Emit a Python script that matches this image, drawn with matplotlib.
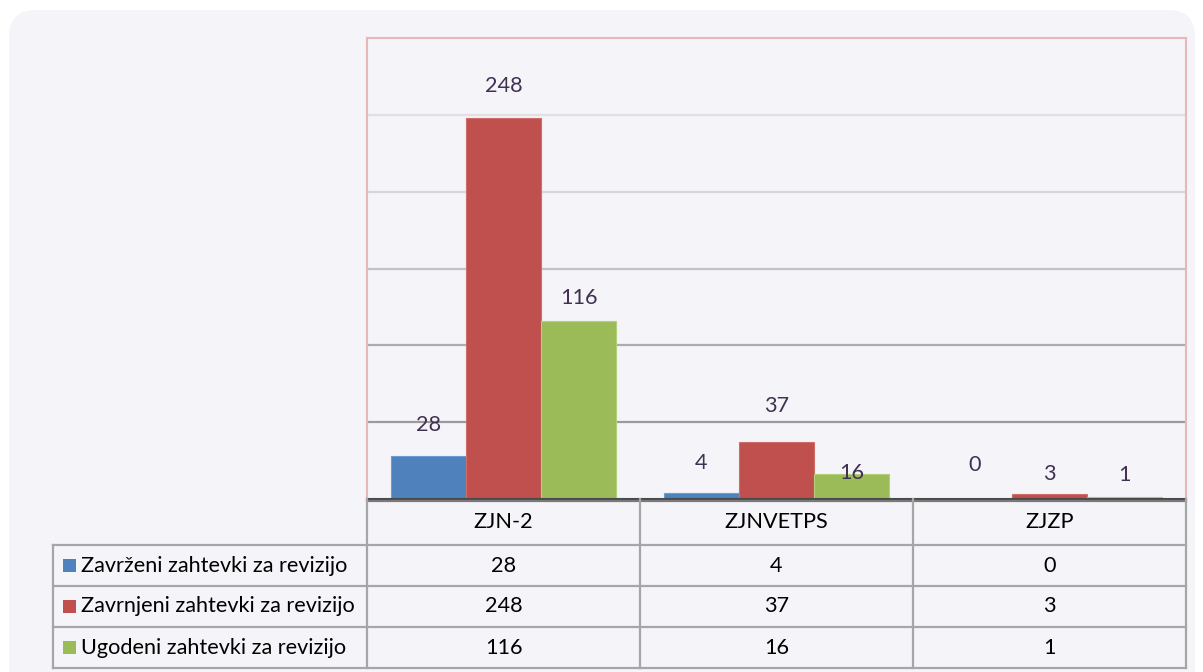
import matplotlib
matplotlib.use('Agg')
import matplotlib.pyplot as plt
from matplotlib.patches import FancyBboxPatch, Rectangle
import numpy as np

categories = ['ZJN-2', 'ZJNVETPS', 'ZJZP']
series_names = ['Zavrženi zahtevki za revizijo',
                'Zavrnjeni zahtevki za revizijo',
                'Ugodeni zahtevki za revizijo']
zavrzeni = [28, 4, 0]
zavrnjeni = [248, 37, 3]
ugodeni = [116, 16, 1]
series = [zavrzeni, zavrnjeni, ugodeni]
colors = ['#4f81bd', '#c0504d', '#9bbb59']
edges = ['#6f9bd0', '#d06d6a', '#b3cf7a']
# label offsets above bar top (pixels), mimicking the Excel placement
label_offsets = [[31, 30, 34], [32, 36, 20], [23, 1, 22]]

plt.rcParams['font.family'] = ['Lato', 'DejaVu Sans']
fs = 15.6
W, H = 1203, 672
fig = plt.figure(figsize=(W / 100, H / 100), dpi=100)
fig.patch.set_facecolor('white')
bg = '#f5f4f9'

# rounded panel
panel = FancyBboxPatch((9 / W, -0.2), (1195 - 9) / W, (H - 10) / H + 0.2,
                       boxstyle='round,pad=0,rounding_size=0.022',
                       transform=fig.transFigure, facecolor=bg,
                       edgecolor='none', mutation_aspect=W / H, zorder=-5)
fig.patches.append(panel)

x0, x1, ytop, ybase = 367, 1186, 38, 499
ax = fig.add_axes([x0 / W, 1 - ybase / H, (x1 - x0) / W, (ybase - ytop) / H])
ax.set_facecolor(bg)
ax.set_ylim(0, 300)
ax.set_xlim(-0.5, len(categories) - 0.5)

grid_cols = {50: '#9a9a9a', 100: '#acabb0', 150: '#c2c1c6', 200: '#d6d5da', 250: '#e0dfe4'}
for v, c in grid_cols.items():
    ax.axhline(v, color=c, lw=1.6, zorder=1)

x = np.arange(len(categories))
bw = 0.275
for i, vals in enumerate(series):
    pos = x + (i - 1) * bw
    ax.bar(pos, vals, width=bw, color=colors[i], edgecolor=edges[i],
           linewidth=0.8, zorder=2)
    for j, v in enumerate(vals):
        ax.annotate(str(v), (pos[j], v), xytext=(0, label_offsets[i][j] * 0.72),
                    textcoords='offset points', ha='center', va='center',
                    fontsize=fs, color='#403152', zorder=3)

for s in ['left', 'top', 'right']:
    ax.spines[s].set_color('#e6b9b8')
    ax.spines[s].set_linewidth(1.5)
ax.spines['bottom'].set_color('#4a4a4a')
ax.spines['bottom'].set_linewidth(1.5)
ax.set_xticks([])
ax.set_yticks([])

# data table below the plot, drawn in pixel coordinates
tax = fig.add_axes([0, 0, 1, 1], facecolor='none')
tax.set_xlim(0, W)
tax.set_ylim(H, 0)
tax.axis('off')

col_edges = [x0, 640, 913, x1]
row_edges = [ybase, 545, 586, 627, 668]
label_left = 53
lc = '#a6a6a6'
lw = 1.6

tax.plot([x0, x1], [ybase + 2, ybase + 2], color='#7a7a7a', lw=lw)
for ce in col_edges:
    tax.plot([ce, ce], [ybase, row_edges[-1]], color=lc, lw=lw)
tax.plot([label_left, label_left], [row_edges[1], row_edges[-1]], color=lc, lw=lw)
for re in row_edges[1:]:
    tax.plot([label_left, x1], [re, re], color=lc, lw=lw)

for j, cat in enumerate(categories):
    cx = (col_edges[j] + col_edges[j + 1]) / 2
    tax.text(cx, (row_edges[0] + row_edges[1]) / 2, cat, ha='center', va='center',
             fontsize=fs, color='black')

for i, (name, vals) in enumerate(zip(series_names, series)):
    cy = (row_edges[i + 1] + row_edges[i + 2]) / 2
    tax.add_patch(Rectangle((63, cy - 6.5), 13, 13, facecolor=colors[i], edgecolor='none'))
    tax.text(81, cy, name, ha='left', va='center', fontsize=fs, color='black')
    for j, v in enumerate(vals):
        cx = (col_edges[j] + col_edges[j + 1]) / 2
        tax.text(cx, cy, str(v), ha='center', va='center', fontsize=fs, color='black')

fig.savefig('out.png', dpi=100, facecolor='white')
